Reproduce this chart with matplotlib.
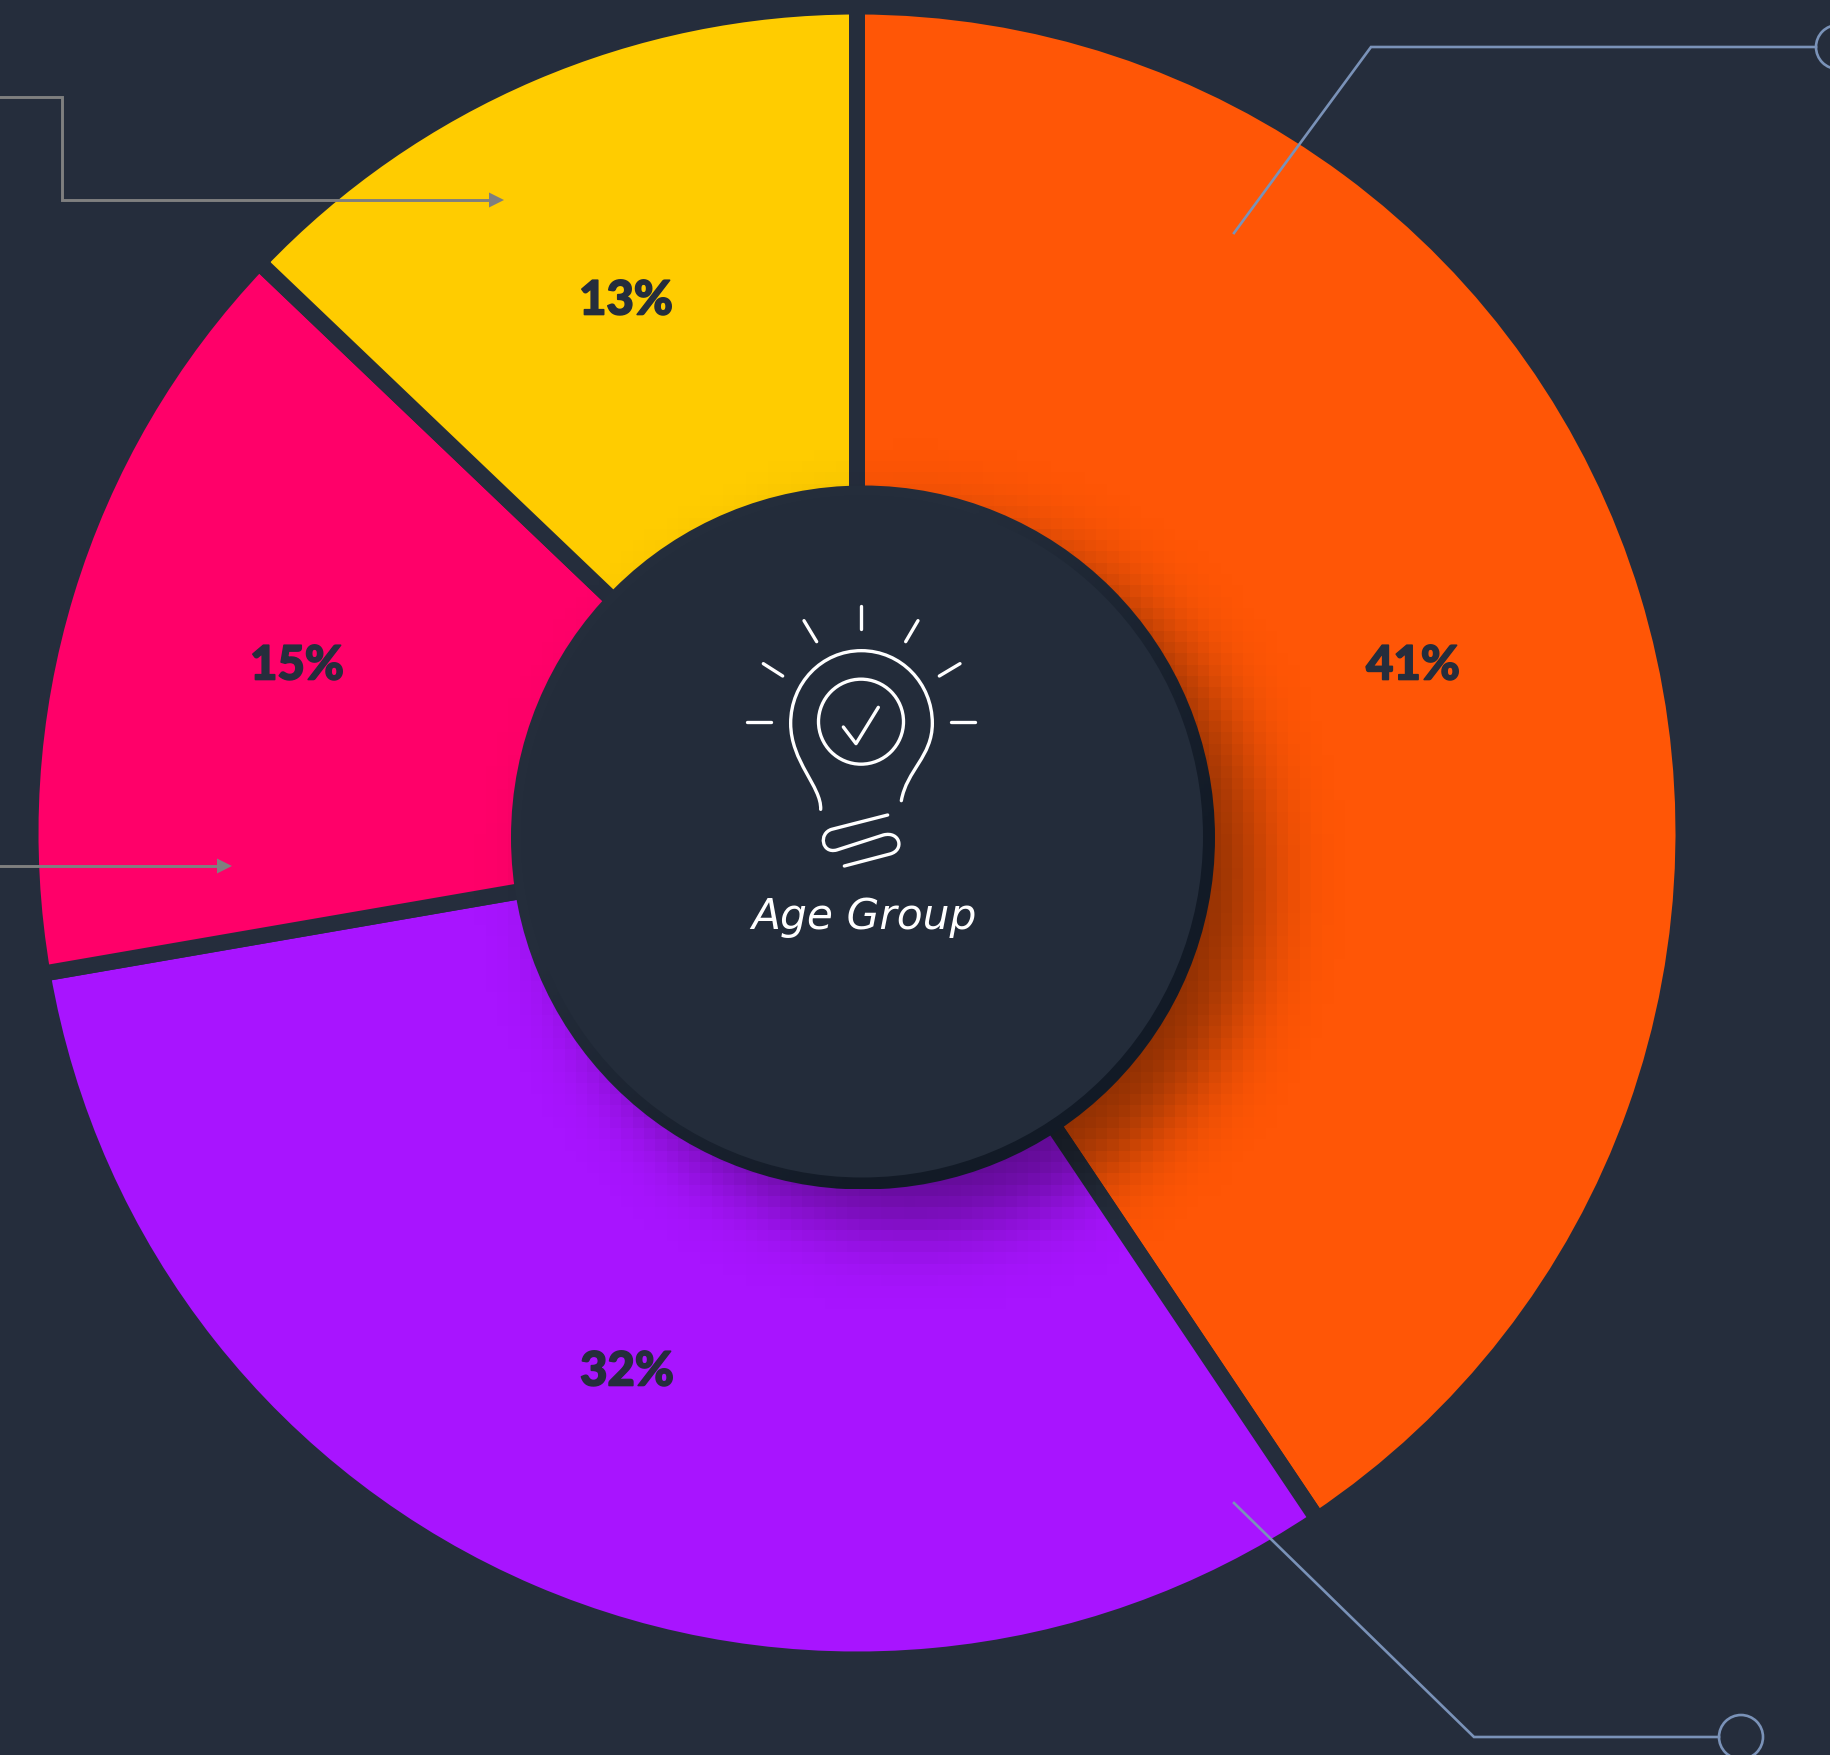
"""Donut chart of age groups on a dark background, with leader lines and a bulb icon."""

import math

import matplotlib

matplotlib.use("Agg")
import matplotlib.patheffects as pe
import matplotlib.pyplot as plt
import numpy as np
from matplotlib.patches import Circle, PathPatch
from matplotlib.path import Path

WIDTH, HEIGHT = 1831, 1756

# slices, clockwise from 12 o'clock
shares = [41, 32, 15, 13]
slice_colors = ["#FF5606", "#A814FF", "#FF0069", "#FFCC00"]
label_x = [1413, 627, 297, 626]
label_y = [666.5, 1372.5, 666.5, 301.5]
center_title = "Age Group"

BG = "#252D3C"
HOLE = "#232C3A"
RIM_DARK = np.array([0x12, 0x1A, 0x26]) / 255
RIM_LIGHT = np.array([0x24, 0x2D, 0x3B]) / 255
LEADER_BLUE = "#7A92B8"
LEADER_GRAY = "#7F7F7F"
INK = "#252D3C"

PIE_X, PIE_Y, PIE_R = 857, 834, 818.5
GAP_PX = 16
HOLE_X, HOLE_Y, HOLE_R = 863, 838.5, 352

fig = plt.figure(figsize=(WIDTH / 100, HEIGHT / 100), dpi=100, facecolor=BG)
ax = fig.add_axes([0, 0, 1, 1])
ax.set_facecolor(BG)

# y axis is flipped below, so the pie runs clockwise on screen
ax.pie(
    shares,
    colors=slice_colors,
    startangle=-90,
    counterclock=True,
    center=(PIE_X, PIE_Y),
    radius=PIE_R + GAP_PX / 2,
    wedgeprops=dict(edgecolor=BG, linewidth=GAP_PX * 0.72),
)
ax.set_xlim(0, WIDTH)
ax.set_ylim(HEIGHT, 0)
ax.axis("off")

# blocky soft shadow under the centre disc
BLOCK = 11.3
xs = np.arange(350, 1450, BLOCK)
ys = np.arange(350, 1450, BLOCK)
gx, gy = np.meshgrid(xs + BLOCK / 2, ys + BLOCK / 2)
dist = np.hypot(gx - 912, gy - 880) - 344
erf = np.vectorize(math.erf)
shade = np.zeros(gx.shape + (4,))
shade[..., 3] = 0.5 * 0.46 * (1 - erf(dist / (38 * math.sqrt(2))))
ax.imshow(
    shade,
    extent=(xs[0], xs[-1] + BLOCK, ys[-1] + BLOCK, ys[0]),
    interpolation="nearest",
    zorder=3,
)
ax.set_xlim(0, WIDTH)
ax.set_ylim(HEIGHT, 0)

# rim: darker towards the lower right
grid = np.linspace(0, 1, 200)
tx, ty = np.meshgrid(grid, grid)
t = np.clip(((tx + ty) / 2 - 0.35) / 0.4, 0, 1)[..., None]
rim_img = ax.imshow(
    RIM_LIGHT * (1 - t) + RIM_DARK * t,
    extent=(HOLE_X - HOLE_R, HOLE_X + HOLE_R, HOLE_Y + HOLE_R, HOLE_Y - HOLE_R),
    zorder=4,
)
rim_clip = Circle((HOLE_X, HOLE_Y), HOLE_R, transform=ax.transData)
rim_img.set_clip_path(rim_clip)
ax.add_patch(Circle((HOLE_X - 1, HOLE_Y - 1), HOLE_R - 11, facecolor=HOLE, edgecolor="none", zorder=5))
ax.set_xlim(0, WIDTH)
ax.set_ylim(HEIGHT, 0)

for share, x, y in zip(shares, label_x, label_y):
    ax.text(
        x, y, f"{share}%",
        color=INK, fontsize=34, fontweight="black", family=["Lato", "DejaVu Sans"],
        ha="center", va="center", zorder=6,
        path_effects=[pe.withStroke(linewidth=1.2, foreground=INK)],
    )

ax.text(
    864, 929, center_title,
    color="white", fontsize=30.5, style="italic", family=["DejaVu Sans"],
    ha="center", va="baseline", zorder=6,
)

# leader lines
LW = 1.9
ax.plot([1234, 1371, 1816], [234, 48, 48], color=LEADER_BLUE, lw=LW, solid_joinstyle="miter", zorder=7)
ax.plot([1234, 1474, 1719], [1504, 1738, 1738], color=LEADER_BLUE, lw=LW, solid_joinstyle="miter", zorder=7)
ax.add_patch(Circle((1838, 48), 22, facecolor="none", edgecolor=LEADER_BLUE, lw=LW, zorder=7))
ax.add_patch(Circle((1741, 1738), 22, facecolor="none", edgecolor=LEADER_BLUE, lw=LW, zorder=7))

ax.plot([0, 62, 62, 490], [98, 98, 201, 201], color=LEADER_GRAY, lw=2.1, solid_joinstyle="miter", zorder=7)
ax.plot([0, 218], [867, 867], color=LEADER_GRAY, lw=2.1, zorder=7)
for tip_x, tip_y in [(504, 201), (232, 867)]:
    ax.fill(
        [tip_x, tip_x - 15, tip_x - 15], [tip_y, tip_y - 7.5, tip_y + 7.5],
        color=LEADER_GRAY, lw=0, zorder=7,
    )


def ic(x, y):
    return 700 + x / 3, 581 + y / 3


ICON_LW = 2.4


def stroke(points, codes=None):
    path = Path([ic(*p) for p in points], codes)
    ax.add_patch(
        PathPatch(path, facecolor="none", edgecolor="white", lw=ICON_LW, capstyle="round", joinstyle="round", zorder=6)
    )


rays = [
    [(483, 78), (483, 146)],
    [(312, 122), (350, 185)],
    [(654, 122), (617, 185)],
    [(190, 251), (248, 288)],
    [(780, 251), (718, 288)],
    [(142, 425), (214, 425)],
    [(752, 425), (824, 425)],
]
for ray in rays:
    stroke(ray)

M, L, C = Path.MOVETO, Path.LINETO, Path.CURVE4
stroke(
    [
        (362, 688),
        (365, 620), (272, 545), (272, 430),
        (272, 310), (365, 212), (484, 212),
        (603, 212), (697, 310), (697, 430),
        (697, 530), (620, 570), (604, 662),
    ],
    [M, C, C, C, C, C, C, C, C, C, C, C, C],
)
ax.add_patch(Circle(ic(483, 425), 42.5, facecolor="none", edgecolor="white", lw=ICON_LW, zorder=6))
stroke([(430, 441), (468, 491), (535, 382)])
stroke(
    [
        (563, 705), (395, 748),
        (355, 760), (365, 822), (410, 810),
        (550, 765),
        (600, 752), (615, 810), (570, 822),
        (433, 858),
    ],
    [M, L, C, C, C, L, C, C, C, L],
)

fig.savefig("out.png", dpi=100, facecolor=BG)
plt.close(fig)
